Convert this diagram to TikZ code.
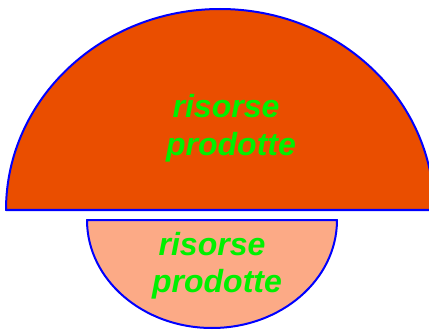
\documentclass[tikz,border=0pt]{standalone}
\usepackage{fontspec}
\setmainfont{Liberation Sans}
\definecolor{bigfill}{HTML}{EA4E00}
\definecolor{smallfill}{HTML}{FCAA86}
\definecolor{txtgreen}{HTML}{00F000}
\definecolor{edgeblue}{HTML}{0000FF}
\tikzset{
  half/.style={draw=edgeblue, line width=2pt, line join=round},
  lbl/.style={text=txtgreen, font=\fontsize{32}{37}\selectfont\bfseries\itshape, anchor=base, inner sep=0pt}
}
\begin{document}
\begin{tikzpicture}[x=1pt,y=1pt]
\useasboundingbox (0,0) rectangle (429,330);
\clip (0,0) rectangle (429,330);
\fill[white] (0,0) rectangle (429,330);
\draw[half, fill=bigfill] (6,120) arc[start angle=180, end angle=0, x radius=214, y radius=201] -- cycle;
\draw[half, fill=smallfill] (87,110) arc[start angle=180, end angle=360, x radius=125, y radius=108] -- cycle;
\node[lbl] (u1) at (226,212) {risorse};
\node[lbl] (u2) at (231,175) {prodotte};
\node[lbl] (l1) at (212,75) {risorse};
\node[lbl] (l2) at (217,38) {prodotte};
\end{tikzpicture}
\end{document}
